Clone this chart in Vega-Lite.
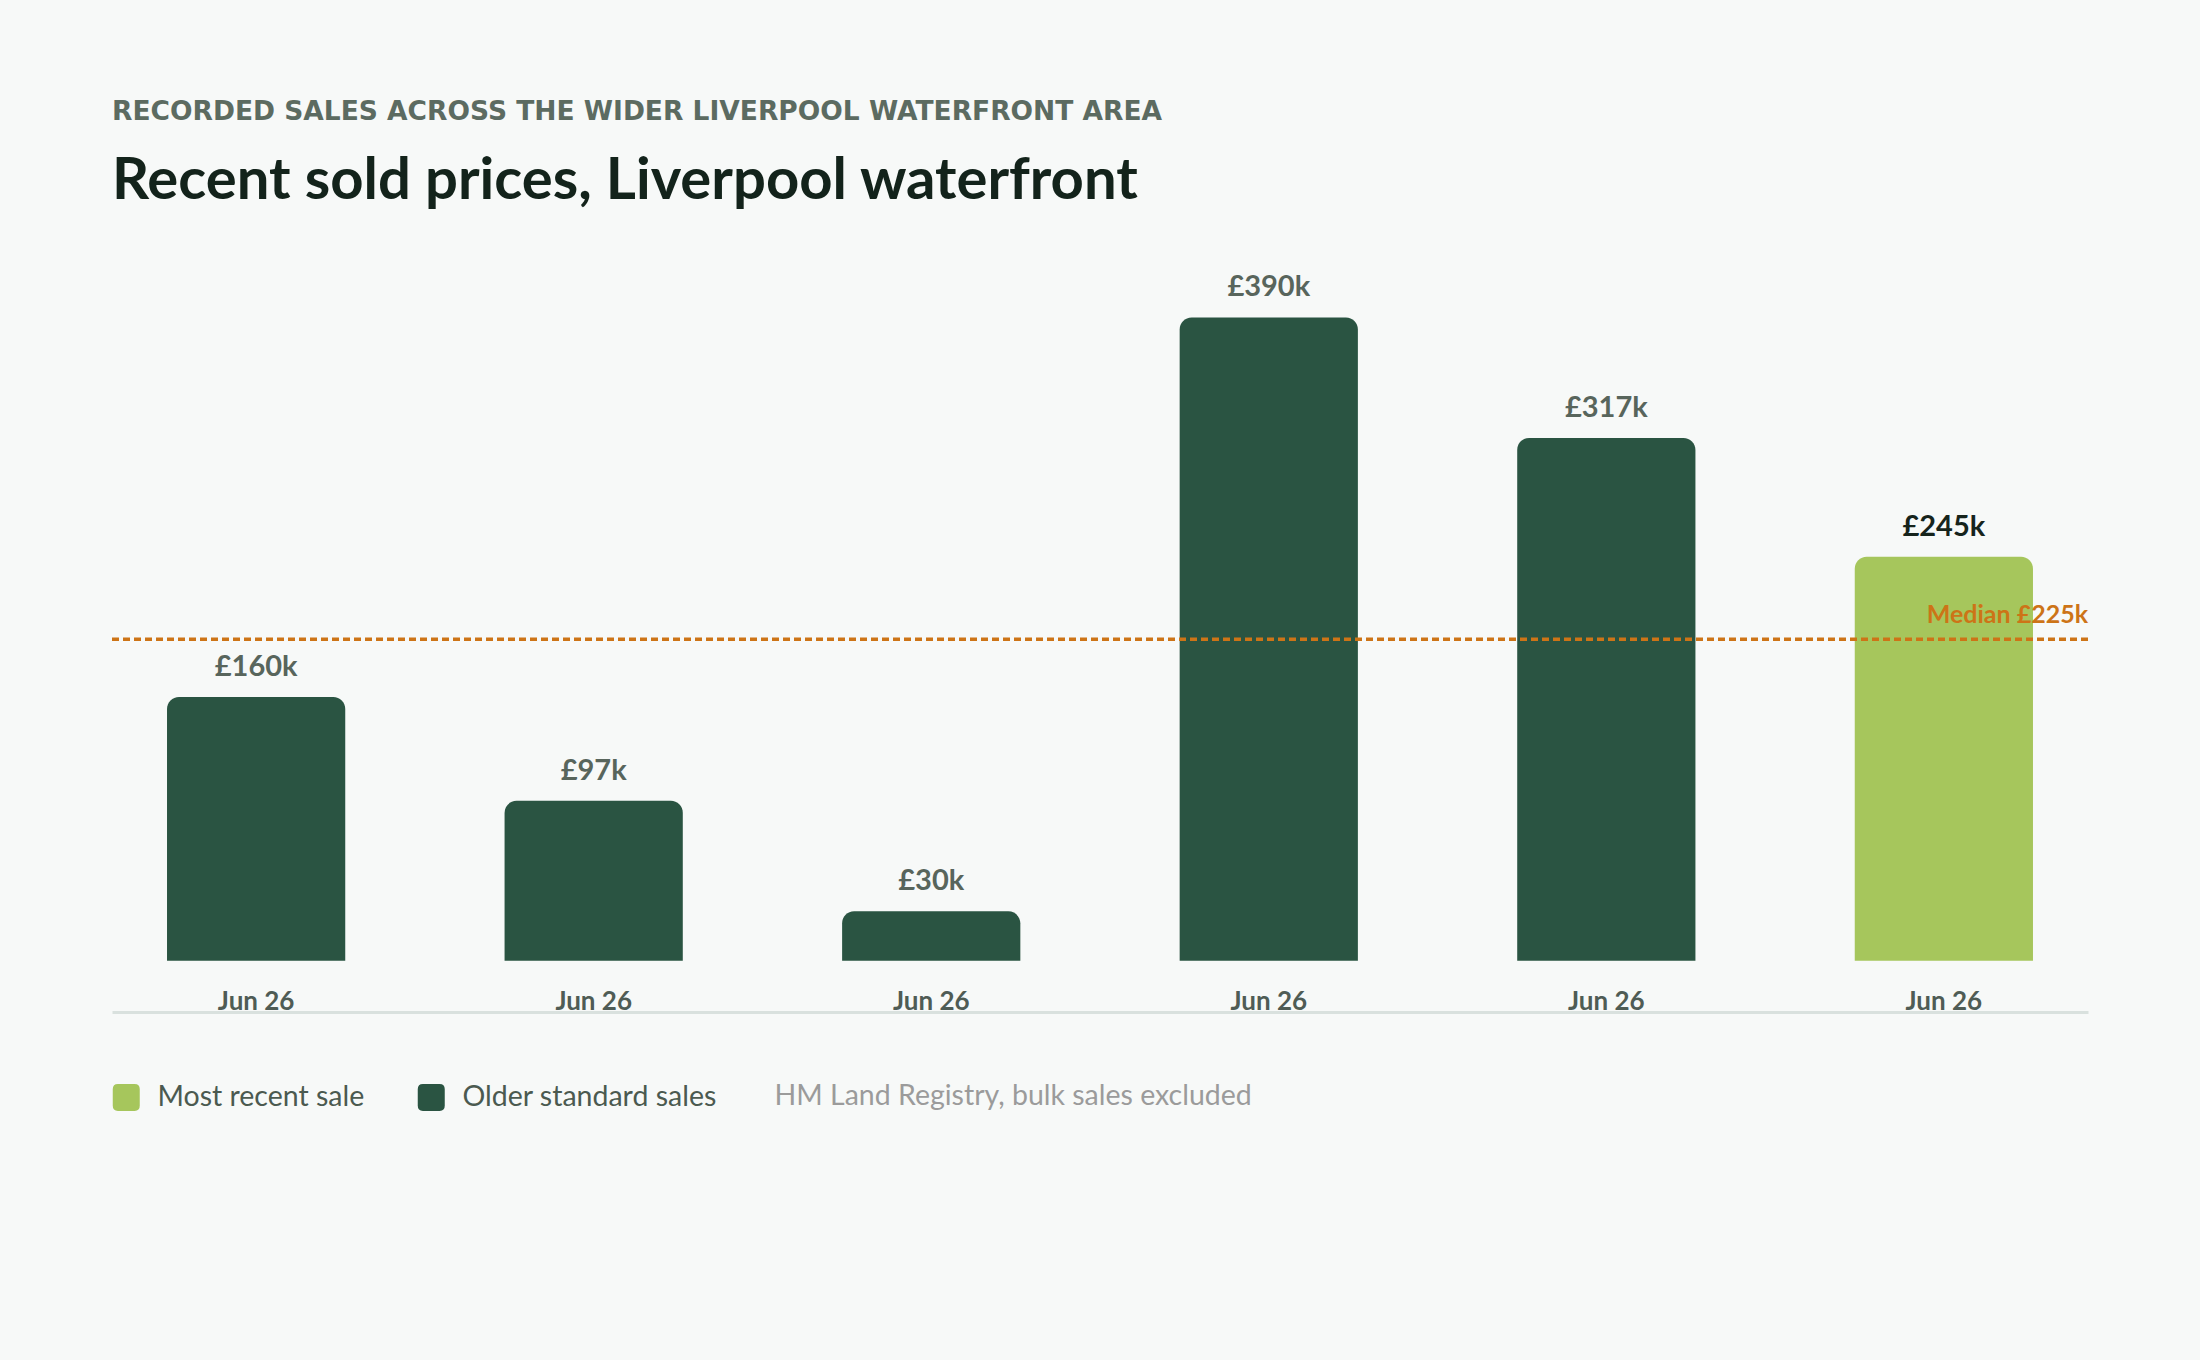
{
  "$schema": "https://vega.github.io/schema/vega-lite/v6.json",
  "width": 1976,
  "height": 744,
  "autosize": {"type": "none"},
  "padding": {"left": 112, "top": 268, "right": 112, "bottom": 348},
  "background": "#f7f9f8",
  "title": {
    "text": "RECORDED SALES ACROSS THE WIDER LIVERPOOL WATERFRONT AREA",
    "subtitle": "Recent sold prices, Liverpool waterfront",
    "anchor": "start",
    "frame": "group",
    "font": "DejaVu Sans",
    "fontSize": 26.5,
    "fontWeight": "bold",
    "color": "#5c6b61",
    "subtitleFont": "Lato",
    "subtitleFontSize": 58,
    "subtitleFontWeight": "bold",
    "subtitleColor": "#13231b",
    "subtitlePadding": 28,
    "offset": 57
  },
  "datasets": {
    "sales": [
      {"sale": "1", "date": "Jun 26", "price": 160, "label": "£160k", "type": "Older standard sales"},
      {"sale": "2", "date": "Jun 26", "price": 97, "label": "£97k", "type": "Older standard sales"},
      {"sale": "3", "date": "Jun 26", "price": 30, "label": "£30k", "type": "Older standard sales"},
      {"sale": "4", "date": "Jun 26", "price": 390, "label": "£390k", "type": "Older standard sales"},
      {"sale": "5", "date": "Jun 26", "price": 317, "label": "£317k", "type": "Older standard sales"},
      {"sale": "6", "date": "Jun 26", "price": 245, "label": "£245k", "type": "Most recent sale"}
    ],
    "median": [
      {"line": 195, "label": "Median £225k"}
    ]
  },
  "layer": [
    {
      "data": {"name": "sales"},
      "mark": {"type": "bar", "cornerRadiusTopLeft": 12, "cornerRadiusTopRight": 12},
      "encoding": {
        "x": {
          "field": "sale",
          "type": "nominal",
          "sort": null,
          "scale": {"paddingInner": 0.472, "paddingOuter": 0.163},
          "axis": {
            "labels": false,
            "ticks": false,
            "grid": false,
            "domain": true,
            "domainColor": "#d9e1de",
            "domainWidth": 3,
            "title": "HM Land Registry, bulk sales excluded",
            "titleX": 662,
            "titleY": 92,
            "titleAlign": "left",
            "titleAnchor": "start",
            "titleBaseline": "alphabetic",
            "titleFont": "Lato",
            "titleFontSize": 28.5,
            "titleFontWeight": "normal",
            "titleColor": "#9b9b9b"
          }
        },
        "y": {
          "field": "price",
          "type": "quantitative",
          "scale": {"domain": [-31, 420], "nice": false, "zero": false},
          "axis": null
        },
        "y2": {"datum": 0},
        "color": {
          "field": "type",
          "type": "nominal",
          "scale": {
            "domain": ["Most recent sale", "Older standard sales"],
            "range": ["#a6c65c", "#2a5442"]
          },
          "legend": {
            "title": null,
            "orient": "none",
            "legendX": 0,
            "legendY": 815,
            "direction": "horizontal",
            "padding": 0,
            "symbolType": "M -0.62 -1 H 0.62 Q 1 -1 1 -0.62 V 0.62 Q 1 1 0.62 1 H -0.62 Q -1 1 -1 0.62 V -0.62 Q -1 -1 -0.62 -1 Z",
            "symbolSize": 729,
            "symbolStrokeWidth": 0,
            "labelFont": "Lato",
            "labelFontSize": 28.5,
            "labelColor": "#4b5a50",
            "labelOffset": 17,
            "labelLimit": 0,
            "columnPadding": 52
          }
        }
      }
    },
    {
      "data": {"name": "sales"},
      "mark": {"type": "text", "baseline": "alphabetic", "dy": -21, "font": "Lato", "fontSize": 29, "fontWeight": "bold"},
      "encoding": {
        "x": {"field": "sale", "type": "nominal", "sort": null},
        "y": {"field": "price", "type": "quantitative"},
        "text": {"field": "label"},
        "color": {
          "condition": {"test": "datum.type == 'Most recent sale'", "value": "#16241c"},
          "value": "#58655c"
        }
      }
    },
    {
      "data": {"name": "sales"},
      "mark": {"type": "text", "baseline": "alphabetic", "dy": -2, "font": "Lato", "fontSize": 26, "fontWeight": "bold", "color": "#4f5c55"},
      "encoding": {
        "x": {"field": "sale", "type": "nominal", "sort": null},
        "y": {"datum": -31},
        "text": {"field": "date"}
      }
    },
    {
      "data": {"name": "median"},
      "mark": {"type": "rule", "color": "#cd7417", "strokeWidth": 3.5, "strokeDash": [7, 4]},
      "encoding": {
        "y": {"field": "line", "type": "quantitative"}
      }
    },
    {
      "data": {"name": "median"},
      "mark": {"type": "text", "align": "right", "baseline": "alphabetic", "dy": -16, "font": "Lato", "fontSize": 25, "fontWeight": "bold", "color": "#cd7417"},
      "encoding": {
        "x": {"value": "width"},
        "y": {"field": "line", "type": "quantitative"},
        "text": {"field": "label"}
      }
    }
  ],
  "config": {
    "view": {"stroke": null}
  }
}
